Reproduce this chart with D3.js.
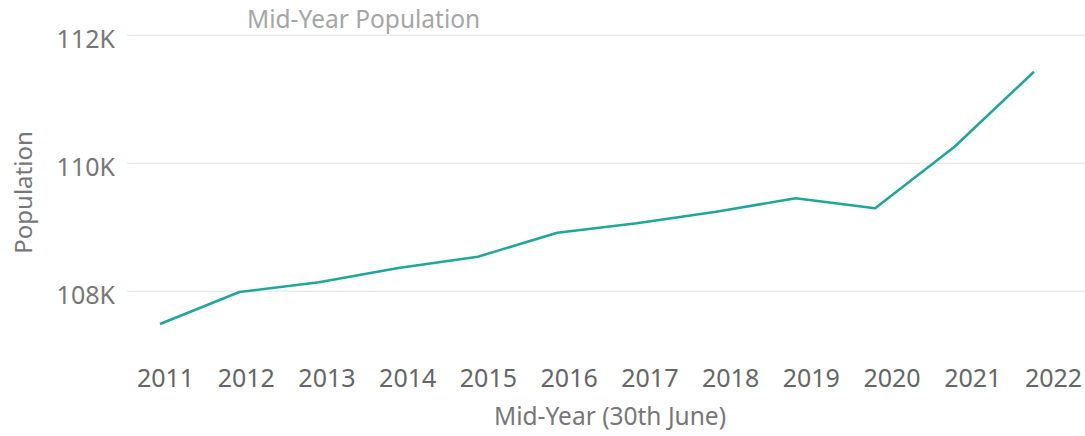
<!DOCTYPE html>
<html><head><meta charset="utf-8">
<script src="https://cdn.jsdelivr.net/npm/d3@7"></script>
<style>body{margin:0;background:#fff}svg{display:block}</style>
</head><body>
<svg id="c" width="1085" height="436"></svg>
<script>
const years = ["2011","2012","2013","2014","2015","2016","2017","2018","2019","2020","2021","2022"];
const population = [107480,107980,108131,108355,108531,108906,109053,109234,109444,109288,110250,111422];
const yTicks = [108000,110000,112000];
const yTickLabels = ["108K","110K","112K"];
const title = "Mid-Year Population";
const xTitle = "Mid-Year (30th June)";
const yTitle = "Population";

const svg = d3.select("#c");
const font = "'Noto Sans', 'Open Sans', sans-serif";
const W = 1085, H = 436;

const y = d3.scaleLinear().domain([108000,112000]).range([290.7,34.7]);
const xAxisScale = d3.scalePoint().domain(years).range([165,1053]);
const xLine = d3.scalePoint().domain(years).range([160,1034]);

// gridlines + y labels
const gy = svg.append("g").attr("transform","translate(127,0)")
  .call(d3.axisLeft(y).tickValues(yTicks).tickSize(-(W-127)).tickFormat((d,i)=>yTickLabels[i]).tickPadding(12));
gy.select(".domain").remove();
gy.selectAll(".tick line").attr("stroke","#ececec").attr("stroke-width",1.5);
gy.selectAll(".tick text").attr("fill","#777").attr("font-family",font).attr("font-size",25).attr("dy","0.5em");

// x axis
const gx = svg.append("g").attr("transform","translate(0,387)")
  .call(d3.axisBottom(xAxisScale).tickSize(0).tickPadding(0));
gx.select(".domain").remove();
gx.selectAll(".tick text").attr("fill","#666").attr("font-family",font).attr("font-size",25).attr("dy","0");

// line
const line = d3.line().x((d,i)=>xLine(years[i])).y(d=>y(d));
svg.append("path").datum(population).attr("d",line)
  .attr("fill","none").attr("stroke","#1fa898").attr("stroke-width",2.6)
  .attr("stroke-linejoin","round");

// titles
svg.append("text").attr("x",247).attr("y",28).text(title)
  .attr("fill","#a6a6a6").attr("font-family",font).attr("font-size",24.5);
svg.append("text").attr("x",610).attr("y",425).attr("text-anchor","middle").text(xTitle)
  .attr("fill","#777").attr("font-family",font).attr("font-size",24.5);
svg.append("text").attr("transform","translate(32,192.5) rotate(-90)").attr("text-anchor","middle").text(yTitle)
  .attr("fill","#777").attr("font-family",font).attr("font-size",24);
</script>
</body></html>
